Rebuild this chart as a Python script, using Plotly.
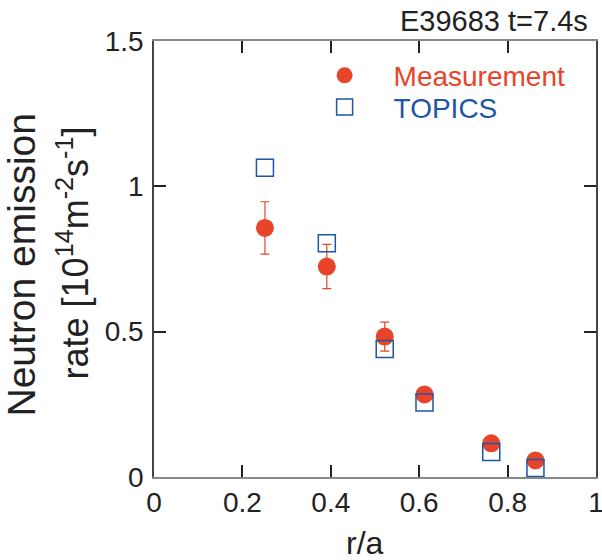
import plotly.graph_objects as go

# Data
r_meas = [0.251, 0.391, 0.522, 0.612, 0.763, 0.863]
n_meas = [0.857, 0.724, 0.483, 0.284, 0.116, 0.057]
n_err = [0.090, 0.076, 0.050, 0.020, 0.020, 0.015]

r_topics = [0.251, 0.391, 0.522, 0.612, 0.763, 0.863]
n_topics = [1.064, 0.804, 0.440, 0.256, 0.086, 0.031]

x_ticks = [0, 0.2, 0.4, 0.6, 0.8, 1]
y_ticks = [0, 0.5, 1, 1.5]

RED = "#e8442a"
BLUE = "#1e55a5"
FONT = "Liberation Sans, Arial, Helvetica, sans-serif"
NB = "\u00a0" * 3 + "\u2009"

fig = go.Figure()
fig.add_trace(go.Scatter(
    x=r_meas, y=n_meas, mode="markers",
    name=f"<span style='color:{RED}'>{NB}Measurement</span>",
    marker=dict(symbol="circle", size=18, color=RED, line=dict(width=0)),
    error_y=dict(type="data", array=n_err, visible=True, color=RED,
                 thickness=1.2, width=4.5),
    legend="legend",
))
fig.add_trace(go.Scatter(
    x=r_topics, y=n_topics, mode="markers",
    name=f"<span style='color:{BLUE}'>{NB}TOPICS</span>",
    marker=dict(symbol="square-open", size=17, color=BLUE, line=dict(width=1.5, color=BLUE)),
    legend="legend2",
))

axis_common = dict(
    showgrid=False, zeroline=False, showline=True, mirror="ticks",
    ticks="inside", ticklen=12, tickwidth=1.5, tickcolor="#222", automargin=False,
    ticklabeloverflow="allow",
    tickfont=dict(family=FONT, size=28, color="#222"),
)
fig.update_xaxes(range=[0, 1], tickvals=x_ticks, linecolor="#888", linewidth=1.5,
                 **axis_common)
fig.update_yaxes(range=[0, 1.5], tickvals=y_ticks, linecolor="#444", linewidth=1.5,
                 ticklabelstandoff=3, **axis_common)

leg_common = dict(xanchor="left", yanchor="top", bgcolor="rgba(0,0,0,0)",
                  font=dict(family=FONT, size=28), itemsizing="trace")

fig.update_layout(
    width=602, height=560,
    margin=dict(l=154, r=6, t=41, b=83),
    paper_bgcolor="white", plot_bgcolor="white",
    font=dict(family=FONT, color="#222"),
    showlegend=True,
    legend=dict(x=0.386, y=0.978, **leg_common),
    legend2=dict(x=0.386, y=0.905, **leg_common),
    annotations=[
        dict(text="E39683 t=7.4s", xref="paper", yref="paper", x=0.9875, y=1.046,
             xanchor="right", yanchor="middle", showarrow=False,
             font=dict(family=FONT, size=29, color="#222")),
        dict(text="r/a", xref="paper", yref="paper", x=0.477, y=-0.151,
             xanchor="center", yanchor="middle", showarrow=False,
             font=dict(family=FONT, size=32, color="#222")),
        dict(text="Neutron emission", xref="paper", yref="paper", x=-0.30, y=0.486,
             xanchor="center", yanchor="middle", showarrow=False, textangle=-90,
             font=dict(family=FONT, size=39, color="#222")),
        dict(text="rate [10<sup>14</sup>m<sup>-2</sup>s<sup>-1</sup>]", xref="paper", yref="paper",
             x=-0.183, y=0.513,
             xanchor="center", yanchor="middle", showarrow=False, textangle=-90,
             font=dict(family=FONT, size=36, color="#222")),
    ],
)

fig.write_html("out.html")
